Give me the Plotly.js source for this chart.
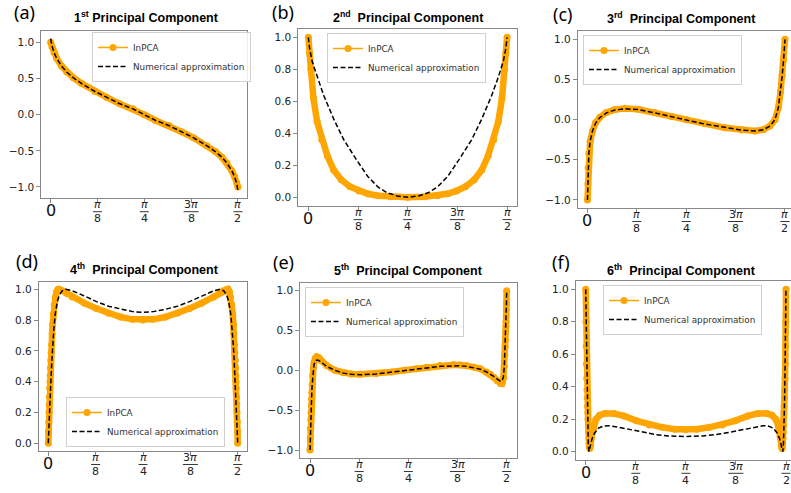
<!DOCTYPE html>
<html><head><meta charset="utf-8">
<script src="https://cdn.plot.ly/plotly-3.0.1.min.js"></script>
<style>html,body{margin:0;padding:0;background:#fff}#chart{width:791px;height:493px}</style>
</head><body><div id="chart"></div>
<script>
// ---------- data (theta in radians) ----------
const a_x = [0, 0.011, 0.028, 0.05, 0.092, 0.134, 0.19, 0.26, 0.372, 0.47, 0.58, 0.69, 0.785, 0.881, 0.991, 1.101, 1.199, 1.311, 1.381, 1.437, 1.479, 1.521, 1.543, 1.560, 1.5708];
const a_inpca = [1.0, 0.94, 0.86, 0.78, 0.67, 0.59, 0.51, 0.43, 0.32, 0.24, 0.15, 0.08, 0.0, -0.08, -0.15, -0.24, -0.32, -0.43, -0.51, -0.59, -0.67, -0.78, -0.86, -0.94, -1.0];
const a_numeric = [1.05, 0.95, 0.86, 0.78, 0.67, 0.59, 0.51, 0.43, 0.32, 0.24, 0.15, 0.08, 0.0, -0.08, -0.15, -0.24, -0.32, -0.43, -0.51, -0.59, -0.67, -0.78, -0.86, -0.95, -1.05];

const b_x_inpca = [0, 0.01, 0.02, 0.04, 0.07, 0.106, 0.15, 0.2, 0.26, 0.33, 0.4, 0.47, 0.55, 0.65, 0.785, 0.921, 1.021, 1.101, 1.171, 1.241, 1.311, 1.371, 1.421, 1.465, 1.501, 1.531, 1.551, 1.561, 1.5708];
const b_inpca = [1.0, 0.9, 0.8, 0.62, 0.47, 0.36, 0.26, 0.17, 0.11, 0.066, 0.04, 0.022, 0.01, 0.003, 0.0, 0.003, 0.01, 0.022, 0.04, 0.066, 0.11, 0.17, 0.26, 0.36, 0.47, 0.62, 0.8, 0.9, 1.0];
const b_x_num = [0, 0.01, 0.03, 0.07, 0.12, 0.2, 0.28, 0.38, 0.47, 0.55, 0.62, 0.7, 0.785, 0.871, 0.951, 1.021, 1.101, 1.191, 1.291, 1.371, 1.451, 1.501, 1.541, 1.561, 1.5708];
const b_numeric = [1.0, 0.93, 0.85, 0.75, 0.64, 0.49, 0.36, 0.235, 0.13, 0.065, 0.03, 0.008, 0.0, 0.008, 0.03, 0.065, 0.13, 0.235, 0.36, 0.49, 0.64, 0.75, 0.85, 0.93, 1.0];

const c_x = [0, 0.003, 0.005, 0.011, 0.021, 0.04, 0.064, 0.098, 0.151, 0.218, 0.297, 0.403, 0.536, 0.669, 0.785, 0.934, 1.093, 1.226, 1.332, 1.398, 1.451, 1.491, 1.518, 1.536, 1.549, 1.560, 1.5708];
const c_inpca = [-1.0, -0.8, -0.6, -0.42, -0.27, -0.14, -0.04, 0.03, 0.09, 0.125, 0.14, 0.13, 0.09, 0.04, 0.0, -0.05, -0.10, -0.13, -0.14, -0.125, -0.08, 0.0, 0.15, 0.35, 0.55, 0.75, 1.0];
const c_numeric = [-1.0, -0.8, -0.6, -0.42, -0.27, -0.14, -0.045, 0.025, 0.085, 0.12, 0.135, 0.125, 0.085, 0.035, -0.005, -0.055, -0.10, -0.13, -0.14, -0.125, -0.08, 0.0, 0.15, 0.35, 0.55, 0.75, 1.0];

const d_x_inpca = [0, 0.002, 0.004, 0.006, 0.008, 0.010, 0.012, 0.014, 0.016, 0.018, 0.021, 0.024, 0.028, 0.032, 0.036, 0.042, 0.05, 0.06, 0.07, 0.08, 0.09, 0.12, 0.15, 0.2, 0.3, 0.4, 0.5, 0.6, 0.7, 0.785,
  0.871, 0.971, 1.071, 1.171, 1.271, 1.371, 1.421, 1.451, 1.481, 1.491, 1.501, 1.511, 1.521, 1.529, 1.535, 1.539, 1.543, 1.547, 1.550, 1.553, 1.555, 1.557, 1.559, 1.561, 1.563, 1.565, 1.567, 1.569, 1.5708];
const d_inpca = [0.0, 0.075, 0.14, 0.2, 0.25, 0.30, 0.357, 0.40, 0.44, 0.49, 0.54, 0.59, 0.64, 0.71, 0.77, 0.84, 0.9, 0.95, 0.985, 1.0, 1.0, 0.99, 0.975, 0.95, 0.91, 0.875, 0.845, 0.82, 0.805, 0.80,
  0.805, 0.82, 0.845, 0.875, 0.91, 0.95, 0.975, 0.99, 1.0, 1.0, 0.985, 0.95, 0.9, 0.84, 0.77, 0.71, 0.64, 0.59, 0.54, 0.49, 0.44, 0.40, 0.357, 0.30, 0.25, 0.2, 0.14, 0.075, 0.0];
const d_x_num = [0, 0.005, 0.01, 0.016, 0.022, 0.03, 0.036, 0.046, 0.058, 0.075, 0.091, 0.115, 0.147, 0.2, 0.29, 0.4, 0.5, 0.6, 0.7, 0.785,
  0.871, 0.971, 1.071, 1.171, 1.281, 1.371, 1.424, 1.456, 1.480, 1.496, 1.513, 1.525, 1.535, 1.541, 1.549, 1.555, 1.561, 1.566, 1.5708];
const d_numeric = [0.0, 0.12, 0.22, 0.32, 0.41, 0.54, 0.63, 0.74, 0.84, 0.92, 0.96, 0.99, 1.0, 0.99, 0.96, 0.92, 0.89, 0.87, 0.855, 0.85,
  0.855, 0.87, 0.89, 0.92, 0.96, 0.99, 1.0, 0.99, 0.96, 0.92, 0.84, 0.74, 0.63, 0.54, 0.41, 0.32, 0.22, 0.12, 0.0];

const e_x = [0, 0.002, 0.004, 0.006, 0.008, 0.010, 0.012, 0.014, 0.017, 0.021, 0.026, 0.032, 0.04, 0.053, 0.07, 0.09, 0.133, 0.2, 0.266, 0.33,
  0.4, 0.53, 0.65, 0.753, 0.85, 0.93, 1.04, 1.145, 1.2, 1.25, 1.31, 1.36, 1.41, 1.44, 1.47, 1.496, 1.52, 1.535, 1.545, 1.552,
  1.556, 1.559, 1.561, 1.563, 1.565, 1.566, 1.567, 1.568, 1.569, 1.5708];
const e_inpca = [-1.0, -0.85, -0.73, -0.62, -0.53, -0.44, -0.36, -0.28, -0.18, -0.07, 0.03, 0.10, 0.15, 0.17, 0.16, 0.12, 0.06, 0.0, -0.03, -0.045,
  -0.05, -0.04, -0.02, 0.0, 0.02, 0.04, 0.06, 0.07, 0.068, 0.06, 0.04, 0.02, -0.02, -0.05, -0.09, -0.13, -0.165, -0.16, -0.1, 0.05,
  0.2, 0.30, 0.38, 0.48, 0.55, 0.61, 0.68, 0.75, 0.84, 1.0];
const e_numeric = [-1.0, -0.85, -0.73, -0.62, -0.53, -0.44, -0.36, -0.28, -0.18, -0.08, 0.01, 0.07, 0.11, 0.13, 0.125, 0.10, 0.05, 0.0, -0.035, -0.05,
  -0.055, -0.045, -0.025, -0.005, 0.015, 0.03, 0.05, 0.058, 0.058, 0.05, 0.035, 0.015, -0.02, -0.045, -0.08, -0.11, -0.135, -0.13, -0.08, 0.05,
  0.2, 0.30, 0.38, 0.48, 0.55, 0.61, 0.68, 0.75, 0.84, 1.0];

const f_x_inpca = [0, 0.002, 0.004, 0.006, 0.008, 0.010, 0.012, 0.014, 0.016, 0.018, 0.020, 0.022, 0.024, 0.026, 0.028, 0.032, 0.038, 0.046, 0.06, 0.08,
  0.11, 0.15, 0.22, 0.3, 0.4, 0.5, 0.6, 0.7, 0.785,
  0.871, 0.971, 1.071, 1.171, 1.271, 1.351, 1.421, 1.461, 1.491, 1.511, 1.525, 1.533, 1.539, 1.543, 1.545, 1.547, 1.549, 1.551, 1.553, 1.555,
  1.557, 1.559, 1.561, 1.563, 1.565, 1.567, 1.569, 1.5708];
const f_inpca = [1.0, 0.8, 0.65, 0.54, 0.45, 0.38, 0.33, 0.28, 0.24, 0.20, 0.16, 0.12, 0.08, 0.05, 0.03, 0.02, 0.04, 0.09, 0.16, 0.2,
  0.225, 0.235, 0.235, 0.22, 0.19, 0.165, 0.15, 0.138, 0.135,
  0.138, 0.15, 0.165, 0.19, 0.22, 0.235, 0.235, 0.225, 0.2, 0.16, 0.09, 0.04, 0.02, 0.03, 0.05, 0.08, 0.12, 0.16, 0.20, 0.24,
  0.28, 0.33, 0.38, 0.45, 0.54, 0.65, 0.8, 1.0];
const f_x_num = [0, 0.004, 0.008, 0.012, 0.016, 0.02, 0.025, 0.035, 0.05, 0.07, 0.1, 0.14, 0.18, 0.25, 0.35, 0.45, 0.55, 0.65, 0.785,
  0.921, 1.021, 1.121, 1.221, 1.321, 1.391, 1.431, 1.471, 1.501, 1.521, 1.536, 1.546, 1.551, 1.555, 1.559, 1.563, 1.567, 1.5708];
const f_numeric = [1.0, 0.75, 0.5, 0.3, 0.15, 0.05, 0.0, 0.03, 0.08, 0.115, 0.145, 0.158, 0.16, 0.152, 0.135, 0.118, 0.105, 0.097, 0.093,
  0.097, 0.105, 0.118, 0.135, 0.152, 0.16, 0.158, 0.145, 0.115, 0.08, 0.03, 0.0, 0.05, 0.15, 0.3, 0.5, 0.75, 1.0];

const seriesNames = ['InPCA', 'Numerical approximation'];
const titles = ['1<sup>st</sup> Principal Component', '2<sup>nd</sup>  Principal Component', '3<sup>rd</sup>  Principal Component',
                '4<sup>th</sup>  Principal Component', '5<sup>th</sup>  Principal Component', '6<sup>th</sup>  Principal Component'];
const panelLabels = ['(a)', '(b)', '(c)', '(d)', '(e)', '(f)'];
const xTickVals = [0, Math.PI / 8, Math.PI / 4, 3 * Math.PI / 8, Math.PI / 2];
const xTickZero = '0';
const xTickNumer = ['<i>π</i>', '<i>π</i>', '3<i>π</i>', '<i>π</i>'];
const xTickDenom = ['8', '4', '8', '2'];
const yTicksSym = [-1, -0.5, 0, 0.5, 1];
const yTicksPos = [0, 0.2, 0.4, 0.6, 0.8, 1];

// ---------- layout geometry (pixels in the 791x493 frame) ----------
const W = 791, H = 493;
const panels = [
  {xi: a_x, yi: a_inpca, xn: a_x, yn: a_numeric, px: [41.3, 247.3], py: [31.1, 198.2], xr: [-0.0785, 1.6493], yr: [-1.155, 1.155], yt: yTicksSym, leg: [92, 32, 'top'], lab: [25, 12], titleY: 17, cut: false},
  {xi: b_x_inpca, yi: b_inpca, xn: b_x_num, yn: b_numeric, px: [298.4, 517.0], py: [29.3, 206.1], xr: [-0.0785, 1.6493], yr: [-0.055, 1.05], yt: yTicksPos, leg: [327, 33, 'top'], lab: [283, 12], titleY: 17, cut: false},
  {xi: c_x, yi: c_inpca, xn: c_x, yn: c_numeric, px: [577.8, 791], py: [31.3, 208], xr: [-0.077, 1.6186], yr: [-1.1, 1.1], yt: yTicksSym, leg: [583, 35, 'top'], lab: [562, 14], titleY: 18, cut: true},
  {xi: d_x_inpca, yi: d_inpca, xn: d_x_num, yn: d_numeric, px: [38.8, 247.2], py: [281.6, 451], xr: [-0.0785, 1.6493], yr: [-0.05, 1.05], yt: yTicksPos, leg: [66, 447, 'bottom'], lab: [27, 261], titleY: 269, cut: false},
  {xi: e_x, yi: e_inpca, xn: e_x, yn: e_numeric, px: [300.2, 516.5], py: [282.7, 458], xr: [-0.0785, 1.6493], yr: [-1.1, 1.1], yt: yTicksSym, leg: [305, 287, 'top'], lab: [283, 262], titleY: 270, cut: false},
  {xi: f_x_inpca, yi: f_inpca, xn: f_x_num, yn: f_numeric, px: [575.7, 791], py: [281.2, 459.8], xr: [-0.0785, 1.610], yr: [-0.05, 1.05], yt: yTicksPos, leg: [603, 285, 'top'], lab: [561, 262], titleY: 270, cut: true}
];
const ZERO_DY = 12.5, NUM_DY = 6.5, BAR_DY = 13.5, DEN_DY = 20.5;
const BAR_W = [9, 9, 15, 9];
const TITLE_CENTER = [146, 408, 681, 144, 408, 681];

const ORANGE = '#FFA500';
const AXC = '#888888';
const TICKC = '#222';
const traces = [];
const layout = {
  width: W, height: H, margin: {l: 0, r: 0, t: 0, b: 0},
  paper_bgcolor: '#fff', plot_bgcolor: '#fff', showlegend: true,
  annotations: [], shapes: []
};

panels.forEach((p, i) => {
  const n = i + 1;
  const xa = n === 1 ? 'x' : 'x' + n, ya = n === 1 ? 'y' : 'y' + n;
  const xk = n === 1 ? 'xaxis' : 'xaxis' + n, yk = n === 1 ? 'yaxis' : 'yaxis' + n;
  const lg = n === 1 ? 'legend' : 'legend' + n;
  traces.push({x: p.xi, y: p.yi, xaxis: xa, yaxis: ya, type: 'scatter', mode: 'lines',
    line: {color: ORANGE, width: 6.5}, showlegend: false, hoverinfo: 'skip', legend: lg});
  traces.push({x: p.xi, y: p.yi, xaxis: xa, yaxis: ya, type: 'scatter', mode: 'lines+markers', name: seriesNames[0],
    line: {color: ORANGE, width: 1.5}, marker: {color: ORANGE, size: 7}, legend: lg});
  traces.push({x: p.xn, y: p.yn, xaxis: xa, yaxis: ya, type: 'scatter', mode: 'lines', name: seriesNames[1],
    line: {color: '#000', width: 1.5, dash: '5px,2.5px'}, legend: lg});

  layout[xk] = {domain: [p.px[0] / W, p.px[1] / W], range: p.xr, anchor: ya,
    tickmode: 'array', tickvals: xTickVals, showticklabels: false,
    showline: true, mirror: true, linecolor: AXC, linewidth: 1, ticks: 'outside', ticklen: 4, tickcolor: AXC,
    showgrid: false, zeroline: false};
  layout[yk] = {domain: [1 - p.py[1] / H, 1 - p.py[0] / H], range: p.yr, anchor: xa,
    tickmode: 'array', tickvals: p.yt, tickformat: '.1f',
    showline: true, mirror: p.cut ? false : true, linecolor: AXC, linewidth: 1, ticks: 'outside', ticklen: 4, tickcolor: AXC,
    showgrid: false, zeroline: false, tickfont: {family: 'DejaVu Sans', size: 10.5, color: TICKC}};
  layout[lg] = {x: p.leg[0] / W, y: 1 - p.leg[1] / H, xanchor: 'left', yanchor: p.leg[2],
    bgcolor: 'rgba(255,255,255,0.85)', bordercolor: '#d0d0d0', borderwidth: 1,
    font: {family: 'DejaVu Sans', size: 8.8, color: '#333'}, itemwidth: 30, tracegroupgap: 0};

  layout.annotations.push({text: '<b>' + titles[i] + '</b>', xref: 'paper', yref: 'paper',
    x: TITLE_CENTER[i] / W, y: 1 - p.titleY / H,
    xanchor: 'center', yanchor: 'middle', showarrow: false,
    font: {family: 'Liberation Sans', size: 12.5, color: '#000'}});
  layout.annotations.push({text: panelLabels[i], xref: 'paper', yref: 'paper',
    x: p.lab[0] / W, y: 1 - p.lab[1] / H, xanchor: 'center', yanchor: 'middle', showarrow: false,
    font: {family: 'Noto Sans', size: 18, color: '#000'}});

  const base = p.py[1];
  layout.annotations.push({text: xTickZero, xref: xa, yref: 'paper', x: xTickVals[0], y: 1 - (base + ZERO_DY) / H,
    xanchor: 'center', yanchor: 'middle', showarrow: false,
    font: {family: 'DejaVu Sans', size: 16, color: '#111'}});
  for (let k = 0; k < 4; k++) {
    const tv = xTickVals[k + 1];
    layout.annotations.push({text: xTickNumer[k], xref: xa, yref: 'paper', x: tv, y: 1 - (base + NUM_DY) / H,
      xanchor: 'center', yanchor: 'middle', showarrow: false,
      font: {family: 'DejaVu Sans', size: 11, color: TICKC}});
    layout.annotations.push({text: xTickDenom[k], xref: xa, yref: 'paper', x: tv, y: 1 - (base + DEN_DY) / H,
      xanchor: 'center', yanchor: 'middle', showarrow: false,
      font: {family: 'DejaVu Sans', size: 11, color: TICKC}});
    layout.shapes.push({type: 'line', xref: xa, yref: 'paper', xsizemode: 'pixel', xanchor: tv,
      x0: -BAR_W[k] / 2, x1: BAR_W[k] / 2, y0: 1 - (base + BAR_DY) / H, y1: 1 - (base + BAR_DY) / H,
      line: {color: TICKC, width: 0.9}});
  }
});

Plotly.newPlot('chart', traces, layout, {staticPlot: true, displayModeBar: false});
</script>
</body></html>
